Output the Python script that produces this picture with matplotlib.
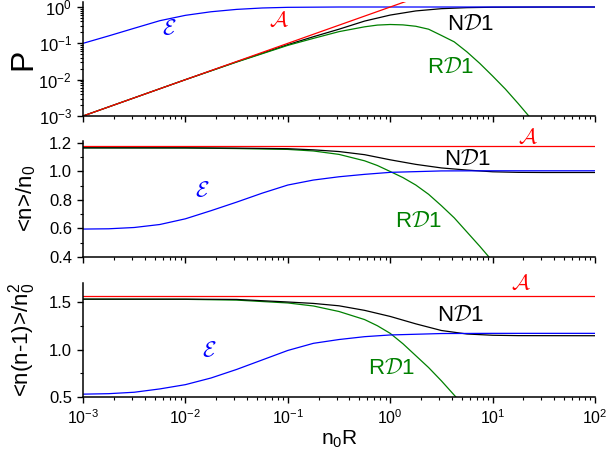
import numpy as np
import matplotlib
matplotlib.use("Agg")
import matplotlib.pyplot as plt
from matplotlib.ticker import MultipleLocator, LogLocator, NullFormatter

plt.rcParams["font.family"] = ["Liberation Sans", "DejaVu Sans"]
plt.rcParams["mathtext.fontset"] = "custom"
plt.rcParams["mathtext.rm"] = "Liberation Sans"
plt.rcParams["mathtext.it"] = "Liberation Sans:italic"
plt.rcParams["mathtext.bf"] = "Liberation Sans:bold"

# --- data (x = n0R) ---
x_line = [1e-3, 1e2]

# panel 1: P
p_E_x = [1e-3, 10**-2.75, 10**-2.5, 10**-2.25, 1e-2, 10**-1.75, 10**-1.5, 10**-1.25, 1e-1, 10**-0.5, 1e2]
p_E = [0.10, 0.16, 0.26, 0.42, 0.59, 0.74, 0.86, 0.94, 0.98, 1.0, 1.0]
p_A_x = [1e-3, 2.0]
p_A = [1e-3, 2.0]
p_N_x = [1e-3, 1e-2, 10**-1.5, 1e-1, 10**-0.75, 10**-0.5, 10**-0.25, 1.0,
         10**0.25, 10**0.5, 10**0.75, 10.0, 10**1.5, 1e2]
p_N = [1e-3, 1e-2, 0.031, 0.092, 0.152, 0.245, 0.41, 0.60,
       0.78, 0.90, 0.96, 0.985, 0.998, 1.0]
p_R_x = [1e-3, 1e-2, 10**-1.5, 1e-1, 10**-0.75, 10**-0.5, 10**-0.25, 10**-0.125, 1.0,
         10**0.125, 10**0.25, 10**0.375, 10**0.5, 10**0.625, 10**0.75, 10**0.875,
         10.0, 10**1.125, 10**1.25, 10**1.4]
p_R = [1e-3, 1e-2, 0.0305, 0.088, 0.137, 0.21, 0.285, 0.318, 0.33,
       0.322, 0.295, 0.245, 0.165, 0.11, 0.058, 0.028,
       0.0126, 0.0055, 0.0022, 0.0007]

# panel 2: <n>/n0
m_E_x = [1e-3, 10**-2.75, 10**-2.5, 10**-2.25, 1e-2, 10**-1.75, 10**-1.5, 10**-1.25,
         1e-1, 10**-0.75, 10**-0.5, 10**-0.25, 1.0, 10**0.5, 10.0, 1e2]
m_E = [0.596, 0.598, 0.607, 0.628, 0.668, 0.725, 0.785, 0.848,
       0.905, 0.94, 0.963, 0.98, 0.994, 1.004, 1.005, 1.005]
m_A = [1.18, 1.18]
m_N_x = [1e-3, 1e-2, 10**-1.5, 1e-1, 10**-0.75, 10**-0.5, 10**-0.25, 1.0,
         10**0.25, 10**0.5, 10**0.75, 10.0, 10**1.25, 10**1.5, 1e2]
m_N = [1.166, 1.166, 1.164, 1.16, 1.152, 1.14, 1.118, 1.082,
       1.05, 1.025, 1.01, 0.998, 0.994, 0.993, 0.993]
m_R_x = [1e-3, 1e-2, 10**-1.5, 1e-1, 10**-0.75, 10**-0.5, 10**-0.25, 10**-0.125, 1.0,
         10**0.125, 10**0.25, 10**0.375, 10**0.5, 10**0.625, 10**0.75, 10**0.875, 10.0]
m_R = [1.166, 1.165, 1.161, 1.155, 1.144, 1.12, 1.075, 1.042, 1.0,
       0.957, 0.905, 0.84, 0.76, 0.675, 0.575, 0.475, 0.37]

# panel 3: <n(n-1)>/n0^2
b_E_x = m_E_x
b_E = [0.53, 0.535, 0.55, 0.585, 0.63, 0.70, 0.79, 0.89,
       0.99, 1.065, 1.105, 1.135, 1.153, 1.168, 1.17, 1.17]
b_A = [1.566, 1.566]
b_N_x = [1e-3, 1e-2, 10**-1.5, 1e-1, 10**-0.75, 10**-0.5, 10**-0.25, 1.0,
         10**0.25, 10**0.5, 10**0.75, 10.0, 10**1.25, 1e2]
b_N = [1.53, 1.53, 1.527, 1.50, 1.485, 1.46, 1.412, 1.348,
       1.27, 1.20, 1.163, 1.15, 1.146, 1.145]
b_R_x = [1e-3, 1e-2, 10**-1.5, 1e-1, 10**-0.75, 10**-0.5, 10**-0.25, 10**-0.125, 1.0,
         10**0.125, 10**0.25, 10**0.375, 10**0.5, 10**0.65]
b_R = [1.53, 1.528, 1.52, 1.49, 1.458, 1.40, 1.315, 1.25, 1.17,
       1.06, 0.935, 0.81, 0.67, 0.49]

BLUE, RED, BLACK, GREEN = "#0000ff", "#ff0000", "#000000", "#008000"
LW = 0.9

fig = plt.figure(figsize=(6.08, 4.59), dpi=100)
W, H = 608.0, 459.0


def make_ax(top_px, bot_px):
    return fig.add_axes([83 / W, (H - bot_px) / H, 512 / W, (bot_px - top_px) / H])


ax1 = make_ax(1.7, 116)
ax2 = make_ax(140.5, 257)
ax3 = make_ax(283, 397)

# top panel
ax1.plot(p_N_x, p_N, color=BLACK, lw=LW)
ax1.plot(p_R_x, p_R, color=GREEN, lw=LW)
ax1.plot(p_E_x, p_E, color=BLUE, lw=LW)
ax1.plot(p_A_x, p_A, color=RED, lw=LW)
ax1.set_yscale("log")
ax1.set_ylim(1e-3, 1.40)

# middle panel
ax2.plot(x_line, m_A, color=RED, lw=LW)
ax2.plot(m_R_x, m_R, color=GREEN, lw=LW)
ax2.plot(m_N_x, m_N, color=BLACK, lw=LW)
ax2.plot(m_E_x, m_E, color=BLUE, lw=LW)
ax2.set_ylim(0.4, 1.2175)
ax2.yaxis.set_major_locator(MultipleLocator(0.2))
ax2.yaxis.set_minor_locator(MultipleLocator(0.1))
ax2.yaxis.set_major_formatter(plt.FormatStrFormatter("%.1f"))

# bottom panel
ax3.plot(x_line, b_A, color=RED, lw=LW)
ax3.plot(b_R_x, b_R, color=GREEN, lw=LW)
ax3.plot(b_N_x, b_N, color=BLACK, lw=LW)
ax3.plot(b_E_x, b_E, color=BLUE, lw=LW)
ax3.set_ylim(0.5, 1.7)
ax3.yaxis.set_major_locator(MultipleLocator(0.5))
ax3.yaxis.set_minor_locator(MultipleLocator(0.25))
ax3.yaxis.set_major_formatter(plt.FormatStrFormatter("%.1f"))

for ax in (ax1, ax2, ax3):
    ax.set_xscale("log")
    ax.set_xlim(1e-3, 1e2)
    ax.xaxis.set_major_locator(LogLocator(base=10, numticks=10))
    ax.xaxis.set_minor_locator(LogLocator(base=10, subs=np.arange(2, 10), numticks=20))
    ax.spines["top"].set_visible(False)
    ax.spines["right"].set_visible(False)
    for s in ("left", "bottom"):
        ax.spines[s].set_linewidth(1.1)
    ax.tick_params(which="major", direction="out", length=4.5, width=1.0)
    ax.tick_params(which="minor", direction="out", length=2.3, width=0.8)
    ax.tick_params(axis="y", labelsize=12)
    ax.tick_params(axis="x", labelsize=11.5)
    ax.yaxis.set_label_coords(-0.088, 0.5)

ax1.tick_params(axis="x", labelbottom=False)
ax2.tick_params(axis="x", labelbottom=False)
ax1.yaxis.set_minor_formatter(NullFormatter())

ax1.set_ylabel("P", fontsize=23)
ax2.set_ylabel("<n>/n$_0$", fontsize=16)
ax3.set_ylabel("<n(n-1)>/n$_0^2$", fontsize=16)
ax3.set_xlabel("n$_0$R", fontsize=15, labelpad=1)

# curve labels
lbl = dict(ha="center", va="center", fontsize=16, math_fontfamily="cm")
ax1.text(10**-2.16, 0.233, r"$\mathcal{E}$", color=BLUE, **lbl)
ax1.text(10**-1.086, 0.40, r"$\mathcal{A}$", color=RED, **lbl)
ax1.text(10**0.78, 0.34, r"N$\mathcal{D}$1", color=BLACK, **lbl)
ax1.text(10**0.59, 0.022, r"R$\mathcal{D}$1", color=GREEN, **lbl)

ax2.text(10**-1.84, 0.86, r"$\mathcal{E}$", color=BLUE, **lbl)
ax2.text(10**1.34, 1.235, r"$\mathcal{A}$", color=RED, **lbl)
ax2.text(10**0.755, 1.081, r"N$\mathcal{D}$1", color=BLACK, **lbl)
ax2.text(10**0.27, 0.649, r"R$\mathcal{D}$1", color=GREEN, **lbl)

ax3.text(10**-1.77, 0.984, r"$\mathcal{E}$", color=BLUE, **lbl)
ax3.text(10**1.28, 1.69, r"$\mathcal{A}$", color=RED, **lbl)
ax3.text(10**0.68, 1.363, r"N$\mathcal{D}$1", color=BLACK, **lbl)
ax3.text(10**0.008, 0.80, r"R$\mathcal{D}$1", color=GREEN, **lbl)

fig.savefig("out.png", dpi=100)
plt.close(fig)
